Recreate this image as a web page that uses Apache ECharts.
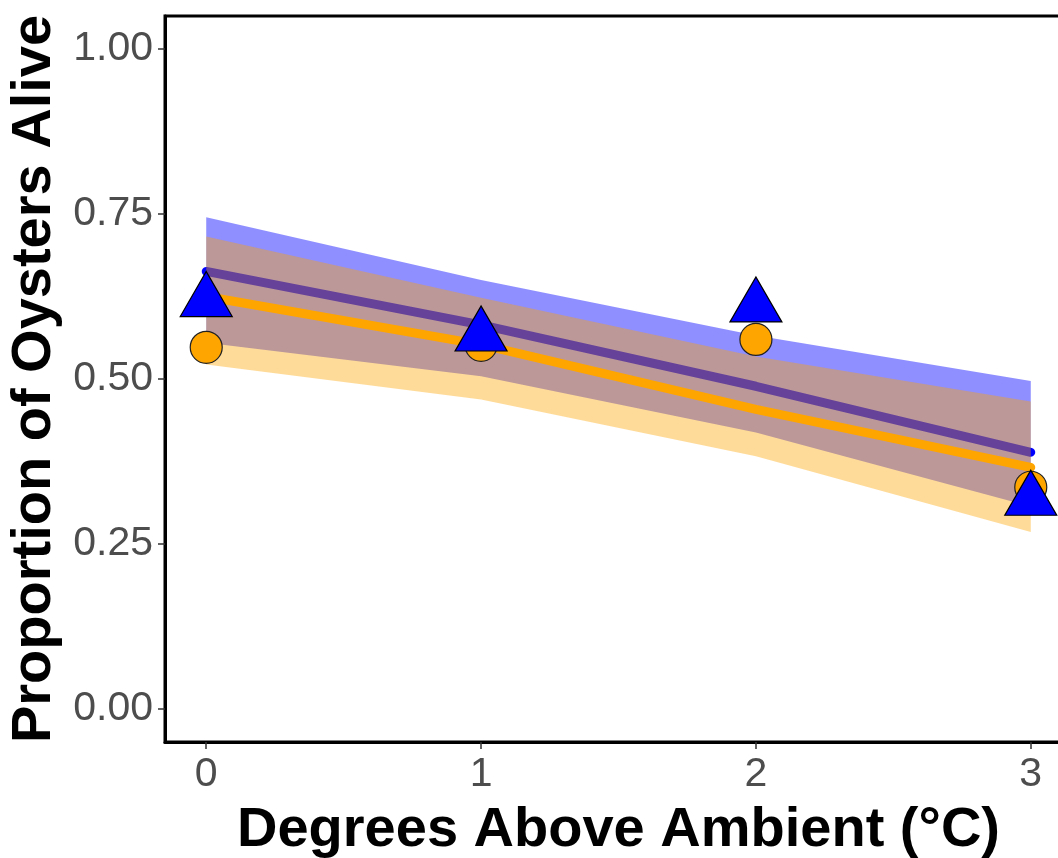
<!DOCTYPE html>
<html>
<head>
<meta charset="utf-8">
<script src="https://cdn.jsdelivr.net/npm/echarts@6/dist/echarts.min.js"></script>
<style>
  html, body { margin: 0; padding: 0; background: #fff; overflow: hidden; }
  /* panel runs past the right edge of the window, as in the source image */
  #chart { width: 1072px; height: 858px; }
</style>
</head>
<body>
<div id="chart"></div>
<script>
// degrees above ambient
var degrees = [0, 1, 2, 3];

// blue group: fitted line + confidence band
var blueFit   = [0.663, 0.582, 0.489, 0.389];
var blueUpper = [0.745, 0.650, 0.566, 0.497];
var blueLower = [0.555, 0.504, 0.419, 0.307];

// orange group: fitted line + confidence band
var orangeFit   = [0.625, 0.552, 0.454, 0.366];
var orangeUpper = [0.716, 0.623, 0.534, 0.466];
var orangeLower = [0.522, 0.469, 0.383, 0.268];

// observed proportions
var bluePoints   = [0.618, 0.566, 0.610, 0.317];
var orangePoints = [0.548, 0.551, 0.560, 0.336];

var xTicks = [0, 1, 2, 3];
var yTicks = [0, 0.25, 0.5, 0.75, 1];

function pairs(ys) {
    return degrees.map(function (x, i) { return [x, ys[i]]; });
}

// ribbon drawn as one polygon through the axis scales
function ribbon(upper, lower, fill, z) {
    return {
        type: 'custom',
        silent: true,
        clip: true,
        z: z,
        data: [[0, 0]],
        renderItem: function (params, api) {
            var top = degrees.map(function (x, i) { return api.coord([x, upper[i]]); });
            var bot = degrees.map(function (x, i) { return api.coord([x, lower[i]]); }).reverse();
            return {
                type: 'polygon',
                shape: { points: top.concat(bot) },
                style: { fill: fill }
            };
        }
    };
}

var option = {
    backgroundColor: '#fff',
    animation: false,
    grid: {
        left: 165,
        top: 16,
        right: 0,
        bottom: 116,
        outerBoundsMode: 'none',
        containLabel: false,
        show: true,
        borderColor: '#000',
        borderWidth: 3,
        backgroundColor: 'transparent'
    },
    xAxis: {
        type: 'value',
        min: -0.15,
        max: 3.15,
        name: 'Degrees Above Ambient (°C)',
        nameLocation: 'middle',
        nameGap: 61,
        nameTextStyle: { fontFamily: 'Liberation Sans', fontWeight: 'bold', fontSize: 56, color: '#000' },
        axisLine: { show: true, onZero: false, lineStyle: { color: '#000', width: 3 } },
        axisTick: { show: true, customValues: xTicks, length: 7, lineStyle: { color: '#333', width: 1.5 } },
        axisLabel: {
            customValues: xTicks,
            fontFamily: 'Liberation Sans', fontSize: 41, color: '#4d4d4d', margin: 12
        },
        splitLine: { show: false }
    },
    yAxis: {
        type: 'value',
        min: -0.05,
        max: 1.05,
        name: 'Proportion of Oysters Alive',
        nameLocation: 'middle',
        nameGap: 92,
        nameTextStyle: { fontFamily: 'Liberation Sans', fontWeight: 'bold', fontSize: 56, color: '#000' },
        axisLine: { show: true, onZero: false, lineStyle: { color: '#000', width: 3 } },
        axisTick: { show: true, customValues: yTicks, length: 7, lineStyle: { color: '#333', width: 1.5 } },
        axisLabel: {
            customValues: yTicks,
            formatter: function (v) { return v.toFixed(2); },
            fontFamily: 'Liberation Sans', fontSize: 41, color: '#4d4d4d', margin: 12
        },
        splitLine: { show: false }
    },
    series: [
        ribbon(blueUpper, blueLower, 'rgba(0,0,255,0.44)', 1),
        {
            type: 'line',
            z: 2,
            data: pairs(blueFit),
            showSymbol: false,
            lineStyle: { color: '#0000ff', width: 9, cap: 'round' },
            silent: true
        },
        ribbon(orangeUpper, orangeLower, 'rgba(255,165,0,0.4)', 3),
        {
            type: 'line',
            z: 4,
            data: pairs(orangeFit),
            showSymbol: false,
            lineStyle: { color: '#ffa500', width: 9, cap: 'round' },
            silent: true
        },
        {
            type: 'scatter',
            z: 5,
            data: pairs(orangePoints),
            symbol: 'circle',
            symbolSize: 32,
            itemStyle: { color: '#ffa500', borderColor: '#222', borderWidth: 1.2, opacity: 1 }
        },
        {
            type: 'scatter',
            z: 6,
            data: pairs(bluePoints),
            symbol: 'triangle',
            symbolSize: [52, 45],
            symbolOffset: [0, -7],
            itemStyle: { color: '#0000ff', borderColor: '#000', borderWidth: 1.2, opacity: 1 }
        }
    ]
};

var myChart = echarts.init(document.getElementById('chart'));
myChart.setOption(option);
</script>
</body>
</html>
